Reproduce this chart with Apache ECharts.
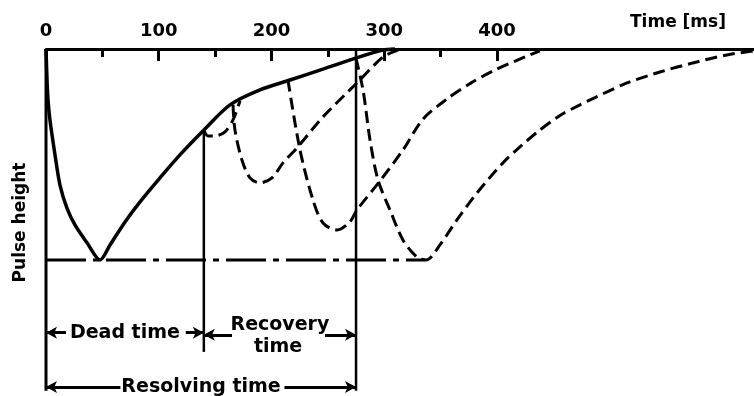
<!DOCTYPE html>
<html>
<head>
<meta charset="utf-8">
<title>Pulse height vs time</title>
<script src="https://cdn.jsdelivr.net/npm/echarts@6/dist/echarts.min.js"></script>
<style>
  html, body { margin: 0; padding: 0; background: #fff; }
  #chart { width: 754px; height: 396px; }
</style>
</head>
<body>
<div id="chart"></div>
<script>
// Time axis (ms)
const majorTicks = [0, 100, 200, 300, 400];
const minorTicks = [50, 150, 250, 350];

// Pulse shapes: [time ms, pulse height] (0 = no signal, -100 = full pulse)
const mainPulse = [[0,0],[0.9,-14.7],[1.8,-24.2],[3.5,-33.6],[8,-50.2],[12.4,-64.5],[18.6,-75.4],[25.7,-83.4],[36.4,-91.9],[47.9,-100],[56.8,-92.9],[70.1,-82],[83.4,-72.5],[101.1,-61.1],[118.8,-50.2],[140.1,-38.4],[163.2,-26.5],[189.8,-19.4],[216.4,-14.7],[243,-10],[274.9,-4.3],[298.9,-0.5],[309.5,0]];
const pulseA = [[140.1,-38.4],[143.7,-41.2],[149.9,-41.2],[158.8,-39.3],[165.9,-33.6],[172.1,-24.5]];
const pulseB = [[165.9,-26.5],[167.6,-38.4],[173.8,-52.6],[180.9,-61.1],[189.8,-63.5],[200.4,-61.1],[210.2,-54],[222.6,-46.9],[245.7,-32.2],[275.8,-16.1],[298.9,-3.8],[312.2,-0.5]];
const pulseC = [[214.6,-14.7],[225.3,-47.9],[236.8,-71.6],[245.7,-82.5],[258.1,-85.8],[269.6,-82],[275.8,-76.3],[296.2,-62.6],[316.6,-47.9],[334.4,-33.2],[355.7,-23.7],[376.1,-16.4],[396.5,-10.4],[426.6,-3.3],[438.1,-0.9]];
const pulseD = [[274.9,-4.3],[281.2,-19.4],[287.4,-43.1],[294.5,-62.1],[305.1,-76.3],[316.6,-90.5],[329,-98.6],[337.5,-100],[349.4,-92.9],[364.5,-81],[382.3,-68.2],[405.3,-54],[420.4,-46.4],[435.5,-39.5],[455.9,-31.5],[473.6,-26.5],[485.1,-23.5],[515.3,-16.1],[544.6,-10.9],[573.8,-6.6],[604,-2.8],[627.1,-0.9]];
const baseline = [[0,-100],[336.1,-100]];

// Characteristic times (ms)
const deadTime = 140;
const resolvingTime = 275;

// Annotation texts and where they sit: [time ms, pulse height]
const notes = [
  { text: 'Dead time', at: [70, -134.5] },
  { text: 'Recovery', at: [207.5, -131] },
  { text: 'time', at: [205.8, -141.4] },
  { text: 'Resolving time', at: [137.5, -160.2] }
];

const FONT = 'DejaVu Sans';
const INK = '#000';

// vertical positions of the arrow rows (pulse-height units)
const rowDead = -134.5;
const rowResolve = -160.2;

const chart = echarts.init(document.getElementById('chart'), null, { renderer: 'canvas' });

function pulseSeries(data, dashed, width) {
  return {
    type: 'line',
    data: data,
    symbol: 'none',
    smooth: 0.3,
    clip: false,
    silent: true,
    lineStyle: { color: INK, width: width, type: dashed ? [12, 6] : 'solid', cap: 'butt' }
  };
}

function vLine(t, yTop, yBottom, width) {
  return {
    type: 'line',
    data: [[t, yTop], [t, yBottom]],
    symbol: 'none',
    clip: false,
    silent: true,
    lineStyle: { color: INK, width: width }
  };
}

function arrow(tFrom, tTo, row) {
  return [{ coord: [tFrom, row] }, { coord: [tTo, row] }];
}

const option = {
  backgroundColor: '#fff',
  animation: false,
  grid: { left: 46, right: 0, top: 49, bottom: 0 },
  xAxis: [
    {
      type: 'value',
      position: 'top',
      min: 0,
      max: 628,
      splitLine: { show: false },
      axisLine: { show: true, lineStyle: { color: INK, width: 3 } },
      axisTick: { show: true, inside: true, length: 12, customValues: majorTicks, lineStyle: { color: INK, width: 3 } },
      axisLabel: {
        show: true,
        customValues: majorTicks,
        margin: 9,
        color: INK,
        fontFamily: FONT,
        fontWeight: 'bold',
        fontSize: 18
      }
    },
    {
      type: 'value',
      position: 'top',
      min: 0,
      max: 628,
      splitLine: { show: false },
      axisLine: { show: false },
      axisTick: { show: true, inside: true, length: 8, customValues: minorTicks, lineStyle: { color: INK, width: 3 } },
      axisLabel: { show: false }
    }
  ],
  yAxis: {
    type: 'value',
    min: -164.5,
    max: 0,
    axisLine: { show: false },
    axisTick: { show: false },
    axisLabel: { show: false },
    splitLine: { show: false },
    name: 'Pulse height',
    nameLocation: 'middle',
    nameGap: 17,
    nameTextStyle: { color: INK, fontFamily: FONT, fontWeight: 'bold', fontSize: 17 }
  },
  series: [
    // left edge of the time scale
    vLine(0, 0, -162, 3),
    // end of dead time / end of recovery
    vLine(deadTime, -38.4, -143.6, 2.5),
    vLine(resolvingTime, 0, -162, 2.5),
    // zero-pulse reference (dash-dot)
    {
      type: 'line',
      data: baseline,
      symbol: 'none',
      clip: false,
      silent: true,
      lineStyle: { color: INK, width: 3, type: [40, 7, 6, 7] }
    },
    pulseSeries(mainPulse, false, 3.5),
    pulseSeries(pulseA, true, 3),
    pulseSeries(pulseB, true, 3),
    pulseSeries(pulseC, true, 3),
    pulseSeries(pulseD, true, 3),
    // dimension arrows
    {
      type: 'line',
      data: [],
      silent: true,
      markLine: {
        silent: true,
        animation: false,
        symbol: ['none', 'arrow'],
        symbolSize: [9, 11],
        label: { show: false },
        lineStyle: { color: INK, width: 3, type: 'solid' },
        data: [
          arrow(17.7, 0, rowDead),
          arrow(124, deadTime, rowDead),
          arrow(165, deadTime, rowDead - 1),
          arrow(247.5, resolvingTime, rowDead - 1),
          arrow(66, 0, rowResolve),
          arrow(211.5, resolvingTime, rowResolve)
        ]
      }
    }
  ]
};

chart.setOption(option);

// Texts placed through the axes' own scales
const texts = notes.map(function (n) {
  const p = chart.convertToPixel({ xAxisIndex: 0, yAxisIndex: 0 }, n.at);
  return {
    type: 'text',
    x: p[0],
    y: p[1],
    style: {
      text: n.text,
      fill: INK,
      font: 'bold 19px "' + FONT + '"',
      align: 'center',
      verticalAlign: 'middle'
    }
  };
});
texts.push({
  type: 'text',
  left: 630,
  top: 14,
  style: { text: 'Time [ms]', fill: INK, font: 'bold 17px "' + FONT + '"' }
});
chart.setOption({ graphic: texts });
</script>
</body>
</html>
